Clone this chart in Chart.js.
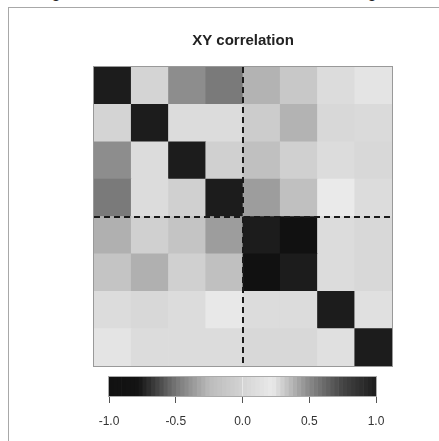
<!DOCTYPE html>
<html>
<head>
<meta charset="utf-8">
<script src="https://cdn.jsdelivr.net/npm/chart.js@4"></script>
<style>
  html, body { margin: 0; padding: 0; background: #fff; }
  #wrap { position: relative; width: 439px; height: 441px; overflow: hidden; }
  #frame { position: absolute; left: 8px; top: 7px; width: 440px; height: 440px;
           border-top: 1px solid #a8a8a8; border-left: 1px solid #a8a8a8; }
  canvas { position: absolute; left: 0; top: 0; }
  .cut { position: absolute; top: -12px; font: bold 14px "Liberation Sans", Arial; color: #222; }
</style>
</head>
<body>
<div id="wrap">
  <div id="frame"></div>
  <span class="cut" style="left:52px">3</span>
  <span class="cut" style="left:368px">3</span>
  <canvas id="heatChart" width="439" height="441"></canvas>
  <canvas id="barChart" width="439" height="441"></canvas>
</div>
<script>
// variables (top row first)
const varNames = ["X1", "X2", "X3", "X4", "Y1", "Y2", "Y3", "Y4"];

// correlation matrix, one row per variable
const row1 = [1.00, 0.00, -0.42, -0.49, -0.28, -0.12, 0.08, 0.16];
const row2 = [0.00, 1.00, 0.08, 0.08, -0.08, -0.28, 0.04, 0.06];
const row3 = [-0.42, 0.08, 1.00, -0.04, -0.20, -0.04, 0.08, 0.04];
const row4 = [-0.49, 0.08, -0.04, 1.00, -0.36, -0.20, 0.22, 0.08];
const row5 = [-0.29, -0.04, -0.16, -0.36, 1.00, -0.97, 0.08, 0.04];
const row6 = [-0.16, -0.29, -0.04, -0.20, -0.97, 1.00, 0.08, 0.04];
const row7 = [0.08, 0.04, 0.08, 0.20, 0.08, 0.08, 1.00, 0.12];
const row8 = [0.16, 0.08, 0.08, 0.08, 0.04, 0.04, 0.12, 1.00];
const corRows = [row1, row2, row3, row4, row5, row6, row7, row8];

// colour scale (grey level at each value)
const cmapValues = [-1, -0.78, -0.64, -0.5, -0.25, 0, 0.22, 0.5, 0.75, 1];
const cmapGrays  = [17, 20, 68, 119, 187, 212, 234, 136, 68, 28];
const cbTicks = [-1, -0.5, 0, 0.5, 1];
const cbSteps = 64;

const fontFamily = '"Liberation Sans", Arial, sans-serif';

function grayFor(v) {
  let g = cmapGrays[0];
  for (let i = 0; i < cmapValues.length - 1; i++) {
    if (v >= cmapValues[i] && v <= cmapValues[i + 1]) {
      const t = (v - cmapValues[i]) / (cmapValues[i + 1] - cmapValues[i]);
      g = cmapGrays[i] + t * (cmapGrays[i + 1] - cmapGrays[i]);
      break;
    }
  }
  if (v > cmapValues[cmapValues.length - 1]) g = cmapGrays[cmapGrays.length - 1];
  g = Math.round(g);
  return 'rgb(' + g + ',' + g + ',' + g + ')';
}

// heatmap: one stacked dataset per row, bottom row first
const heatDatasets = corRows.slice().reverse().map((row, i) => ({
  label: varNames[varNames.length - 1 - i],
  data: row.map(() => 1),
  backgroundColor: row.map(v => grayFor(v)),
  borderWidth: 0,
  barPercentage: 1,
  categoryPercentage: 1
}));

// dashed split lines + box
const splitPlugin = {
  id: 'split',
  afterDatasetsDraw(chart) {
    const ctx = chart.ctx;
    const a = chart.chartArea;
    const xs = chart.scales.x, ys = chart.scales.y;
    const xm = Math.round(xs.getPixelForValue(varNames.length / 2 - 0.5));
    const ym = Math.round(ys.getPixelForValue(varNames.length / 2));
    ctx.save();
    ctx.strokeStyle = '#999';
    ctx.lineWidth = 1;
    ctx.strokeRect(a.left - 0.5, a.top - 0.5, a.right - a.left + 1, a.bottom - a.top + 1);
    ctx.strokeStyle = '#1a1a1a';
    ctx.lineWidth = 2;
    ctx.setLineDash([6, 4]);
    ctx.beginPath();
    ctx.moveTo(xm, a.top);
    ctx.lineTo(xm, a.bottom);
    ctx.moveTo(a.left, ym);
    ctx.lineTo(a.right, ym);
    ctx.stroke();
    ctx.restore();
  }
};

new Chart(document.getElementById('heatChart'), {
  type: 'bar',
  data: { labels: varNames, datasets: heatDatasets },
  options: {
    responsive: false,
    animation: false,
    layout: { padding: { left: 94, right: 47, top: 0, bottom: 75 } },
    plugins: {
      legend: { display: false },
      tooltip: { enabled: false },
      title: {
        display: true,
        text: 'XY correlation',
        color: '#222',
        font: { size: 15, weight: 'bold', family: fontFamily },
        padding: { top: 32, bottom: 17 }
      }
    },
    scales: {
      x: { display: false, stacked: true },
      y: { display: false, stacked: true, min: 0, max: varNames.length }
    }
  },
  plugins: [splitPlugin]
});

// colour bar: floating bars side by side
const cbDatasets = [];
for (let i = 0; i < cbSteps; i++) {
  const lo = -1 + 2 * i / cbSteps;
  const hi = -1 + 2 * (i + 1) / cbSteps;
  cbDatasets.push({
    data: [[lo, hi]],
    backgroundColor: grayFor((lo + hi) / 2),
    borderWidth: 0,
    grouped: false,
    barPercentage: 1,
    categoryPercentage: 1
  });
}

const boxPlugin = {
  id: 'cbbox',
  afterDatasetsDraw(chart) {
    const ctx = chart.ctx, a = chart.chartArea;
    ctx.save();
    ctx.strokeStyle = '#aaa';
    ctx.lineWidth = 1;
    ctx.strokeRect(a.left - 0.5, a.top - 0.5, a.right - a.left + 1, a.bottom - a.top + 1);
    ctx.restore();
  }
};

new Chart(document.getElementById('barChart'), {
  type: 'bar',
  data: { labels: [''], datasets: cbDatasets },
  options: {
    indexAxis: 'y',
    responsive: false,
    animation: false,
    layout: { padding: { left: 109, right: 63, top: 377, bottom: 0 } },
    plugins: { legend: { display: false }, tooltip: { enabled: false } },
    scales: {
      x: {
        type: 'linear',
        min: -1,
        max: 1,
        afterBuildTicks: s => { s.ticks = cbTicks.map(v => ({ value: v })); },
        afterFit: s => { s.height = 45; },
        ticks: {
          callback: v => v.toFixed(1),
          color: '#333',
          font: { size: 12, family: fontFamily },
          padding: 11,
          maxRotation: 0
        },
        grid: { drawOnChartArea: false, tickLength: 7, color: '#555' },
        border: { display: false }
      },
      y: { display: false }
    }
  },
  plugins: [boxPlugin]
});
</script>
</body>
</html>
